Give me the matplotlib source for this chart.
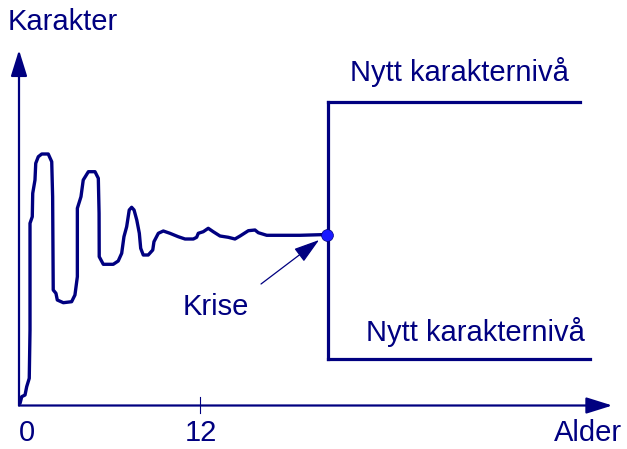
import matplotlib.pyplot as plt

# Karakterutvikling: alder (x) mot karakternivå (y), vilkårlige enheter
alder = [0.07, 0.18, 0.40, 0.51, 0.68, 0.73, 0.73, 0.88, 0.91, 1.06, 1.11, 1.28, 1.51,
         1.94, 2.17, 2.23, 2.27, 2.45, 2.54, 2.94, 3.49, 3.71, 3.87, 3.87, 4.11, 4.26,
         4.60, 5.04, 5.26, 5.31, 5.32, 5.59, 6.25, 6.58, 6.81, 6.96, 7.14, 7.31, 7.47,
         7.63, 7.81, 7.98, 8.07, 8.24, 8.57, 8.87, 8.95, 9.24, 9.57, 10.01, 10.56,
         11.01, 11.56, 11.78, 11.89, 12.22, 12.55, 12.88, 13.33, 13.88, 14.32, 14.66,
         15.21, 15.65, 15.87, 16.43, 18.63, 20.45]
karakter = [0.17, 0.83, 1.00, 1.83, 2.67, 7.50, 18.17, 18.83, 21.17, 22.50, 24.17, 24.83,
            25.10, 25.10, 24.33, 20.83, 11.50, 11.17, 10.50, 10.23, 10.33, 11.00, 12.83,
            19.67, 20.83, 22.50, 23.33, 23.33, 22.67, 19.17, 14.83, 14.07, 14.07, 14.40,
            15.17, 16.83, 17.83, 19.50, 19.77, 19.50, 18.50, 17.17, 15.67, 15.00, 15.00,
            15.50, 16.33, 17.17, 17.40, 17.17, 16.83, 16.60, 16.60, 16.77, 17.17, 17.33,
            17.67, 17.33, 16.90, 16.77, 16.60, 16.90, 17.43, 17.50, 17.23, 16.97, 16.97,
            17.05]

krise_alder = 20.5
krise_nivaa = 17.05
nytt_nivaa_hoy = 30.3
nytt_nivaa_lav = 4.6
slutt_hoy = 37.2
slutt_lav = 37.85
x_maks = 39.35
y_maks = 35.5

farge = '#000080'
plt.rcParams['font.family'] = ['Liberation Sans', 'DejaVu Sans']

fig = plt.figure(figsize=(6.27, 4.49), dpi=100)
ax = fig.add_axes([0, 0, 1, 1])
ax.set_xlim(-1.26, 40.32)
ax.set_ylim(-4.4, 40.5)
ax.axis('off')

# akser med piler
pil = dict(arrowstyle='-|>,head_length=1.6,head_width=0.5', color=farge, lw=1.6,
           mutation_scale=10, shrinkA=0, shrinkB=0)
ax.annotate('', xy=(0, y_maks), xytext=(0, -0.05), arrowprops=pil)
ax.annotate('', xy=(x_maks, -0.05), xytext=(0, -0.05), arrowprops=pil)
ax.plot([12, 12], [-0.8, 0.8], color=farge, lw=0.8)

# kurven
ax.plot(alder, karakter, color=farge, lw=2.4, solid_joinstyle='round', solid_capstyle='round')
ax.plot([krise_alder, krise_alder], [nytt_nivaa_lav, nytt_nivaa_hoy], color=farge, lw=2.3)
ax.plot([krise_alder, slutt_hoy], [nytt_nivaa_hoy, nytt_nivaa_hoy], color=farge, lw=2.3)
ax.plot([krise_alder, slutt_lav], [nytt_nivaa_lav, nytt_nivaa_lav], color=farge, lw=2.3)
ax.plot([krise_alder - 0.08], [krise_nivaa], 'o', color='#1a1aff', ms=8.5, mec=farge, mew=0.5)

# krise-pil
ax.annotate('', xy=(19.9, 16.5), xytext=(16.05, 12.1),
            arrowprops=dict(arrowstyle='-|>,head_length=1.6,head_width=0.5', color=farge,
                            lw=0.9, mutation_scale=10, shrinkA=0, shrinkB=0))

fs = 21
ax.text(-0.75, 38.3, 'Karakter', color=farge, fontsize=fs, ha='left', va='center')
ax.text(29.2, 33.3, 'Nytt karakternivå', color=farge, fontsize=fs, ha='center', va='center')
ax.text(30.3, 7.3, 'Nytt karakternivå', color=farge, fontsize=fs, ha='center', va='center')
ax.text(13.06, 9.8, 'Krise', color=farge, fontsize=fs, ha='center', va='center')
ax.text(0.53, -3.6, '0', color=farge, fontsize=fs, ha='center', va='baseline')
ax.text(12.07, -3.6, '12', color=farge, fontsize=fs, ha='center', va='baseline')
ax.text(37.73, -3.6, 'Alder', color=farge, fontsize=fs, ha='center', va='baseline')

fig.savefig('out.png', dpi=100)
